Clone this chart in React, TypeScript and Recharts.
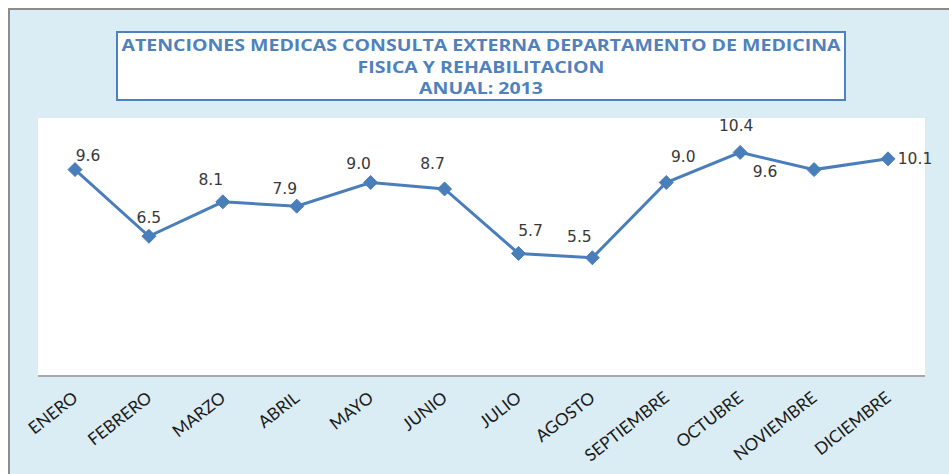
import React from "react";
import { LineChart, Line, XAxis, YAxis, CartesianGrid, LabelList } from "recharts";

const months = ["ENERO", "FEBRERO", "MARZO", "ABRIL", "MAYO", "JUNIO", "JULIO", "AGOSTO", "SEPTIEMBRE", "OCTUBRE", "NOVIEMBRE", "DICIEMBRE"];
const values = [9.6, 6.5, 8.1, 7.9, 9.0, 8.7, 5.7, 5.5, 9.0, 10.4, 9.6, 10.1];
const titleLines = ["ATENCIONES MEDICAS CONSULTA EXTERNA DEPARTAMENTO DE MEDICINA", "FISICA Y REHABILITACION", "ANUAL: 2013"];

// label offsets (style only)
const labelOffsets: [number, number][] = [
  [13, -14], [0, -18], [-12, -22], [-12, -17], [-12, -19], [-12, -25],
  [12, -22], [-13, -21], [17, -26], [-4, -26], [-49, 2], [27, 0],
];

const data = months.map((m, i) => ({ month: m, value: values[i] }));

const LINE = "#4A7EBB";

const Diamond = (props: any) => {
  const { cx, cy } = props;
  if (cx == null || cy == null) return null;
  const r = 7;
  return <polygon points={`${cx},${cy - r} ${cx + r},${cy} ${cx},${cy + r} ${cx - r},${cy}`} fill={LINE} stroke={LINE} strokeWidth={1} />;
};

const ValueLabel = (props: any) => {
  const { x, y, index, value } = props;
  const [dx, dy] = labelOffsets[index] || [0, -15];
  return (
    <text x={x + dx} y={y + dy} textAnchor="middle" dominantBaseline="central" fontFamily="DejaVu Sans" fontSize={15.5} fill="#383838">
      {Number(value).toFixed(1)}
    </text>
  );
};

const MonthTick = (props: any) => {
  const { x, y, payload } = props;
  const ax = x + 4;
  const ay = y + 16;
  return (
    <text x={ax} y={ay} textAnchor="end" transform={`rotate(-38 ${ax} ${ay})`} fontFamily="Lato" fontSize={17} fill="#1a1a1a">
      {payload.value}
    </text>
  );
};

export default function App() {
  return (
    <div style={{ position: "absolute", left: 0, top: 0, width: 949, height: 474, background: "#fff", overflow: "hidden" }}>
      <div style={{ position: "absolute", left: 8, top: 8, width: 960, height: 480, background: "#DAEDF4", borderLeft: "2px solid #8C8C8C", borderTop: "2px solid #8C8C8C", boxSizing: "border-box" }} />
      <div style={{ position: "absolute", left: 0, top: 0 }}>
        <LineChart width={949} height={474} data={data} margin={{ top: 118, right: 24, left: 38, bottom: 0 }}>
          <CartesianGrid horizontal={false} vertical={false} fill="#FFFFFF" stroke="none" />
          <XAxis dataKey="month" height={98} interval={0} padding={{ left: 37, right: 37 }} tickLine={false} axisLine={{ stroke: "#A8A8A8", strokeWidth: 2 }} tick={<MonthTick />} />
          <YAxis hide domain={[0, 12]} />
          <Line dataKey="value" stroke={LINE} strokeWidth={3} dot={<Diamond />} isAnimationActive={false}>
            <LabelList dataKey="value" content={<ValueLabel />} />
          </Line>
        </LineChart>
      </div>
      <div style={{ position: "absolute", left: 116, top: 31, width: 730, height: 70, boxSizing: "border-box", border: "2px solid #4F81BD", background: "#fff", color: "#4F81BD", fontFamily: "Open Sans", fontWeight: 700, fontSize: 16, textAlign: "center", lineHeight: "21.5px", paddingTop: 2, overflow: "hidden" }}>
        {titleLines.map((t) => (
          <div key={t} style={{ transform: "scaleX(1.22)", transformOrigin: "center", whiteSpace: "nowrap" }}>{t}</div>
        ))}
      </div>
    </div>
  );
}
